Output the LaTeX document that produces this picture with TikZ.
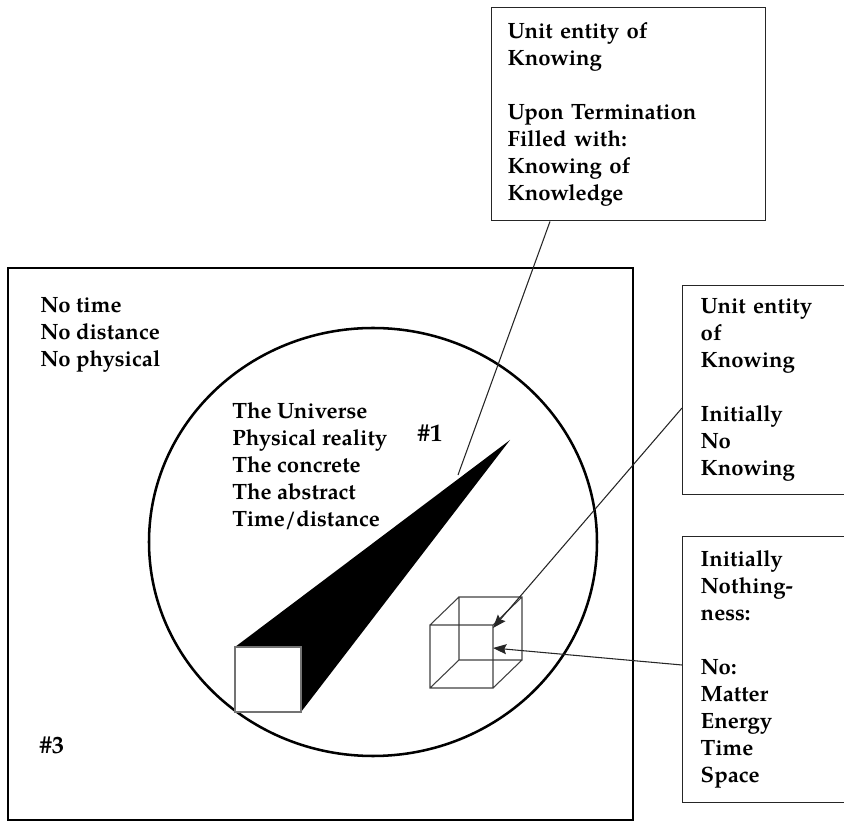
\documentclass[tikz,border=0pt]{standalone}
\usepackage{fontspec}
\setmainfont{texgyrepagella}[Extension=.otf,UprightFont=*-regular,BoldFont=*-bold,ItalicFont=*-italic,BoldItalicFont=*-bolditalic]
\usepackage{tikz}
\usetikzlibrary{arrows.meta}

\tikzset{
    txt/.style={font=\fontsize{16.6}{20.25}\selectfont\bfseries, align=left, inner sep=0pt, anchor=north west},
    infobox/.style={draw=black!85, line width=1.1pt, anchor=north west, inner ysep=0pt,
        font=\fontsize{16.6}{20.25}\selectfont\bfseries, align=left},
    tag/.style={font=\fontsize{18.5}{22}\selectfont\bfseries},
    link/.style={draw=black!85, line width=0.8pt},
    ptr/.style={link, -{Stealth[length=10pt,width=7.5pt,inset=1.5pt]}},
    wire/.style={draw=black!75, line width=0.8pt}
}

\begin{document}
\begin{tikzpicture}[x=0.75pt,y=-0.75pt]
\useasboundingbox (0,0) rectangle (844,823);
\clip (0,0) rectangle (844,823);

% frame and circle
\draw[line width=1.9pt] (8,268) rectangle (633,820);
\draw[line width=1.9pt] (373,542) ellipse [x radius=224, y radius=214];

% texts
\node[txt] (nophys) at (40,297) {No time\\No distance\\No physical};
\node[txt] (univ) at (232,402) {The Universe\\Physical reality\\The concrete\\The abstract\\Time/distance};
\node[tag] (one) at (430,433) {\#1};
\node[tag] (three) at (52,745) {\#3};

% the beam
\coordinate (tip) at (510,440);
\coordinate (hit) at (458,475);
\fill (235,647) -- (tip) -- (301,712) -- cycle;
\draw[fill=white, draw=black!55, line width=0.9pt] (235,647) rectangle (301,712);

% the cube
\coordinate (f1) at (430,625);
\coordinate (f2) at (493,625);
\coordinate (f3) at (493,688);
\coordinate (f4) at (430,688);
\coordinate (b1) at (459,597);
\coordinate (b2) at (522,597);
\coordinate (b3) at (522,660);
\coordinate (b4) at (459,660);
\draw[wire] (f1) -- (f2) -- (f3) -- (f4) -- cycle
    (b1) -- (b2) -- (b3) -- (b4) -- cycle
    (f1) -- (b1) (f2) -- (b2) (f3) -- (b3) (f4) -- (b4);
\coordinate (knowpt) at (493,628);
\coordinate (voidpt) at (493,648);

% boxes
\node[infobox, inner xsep=12pt, text width=181.5pt, minimum height=159.75pt] (termbox) at (491,7) {
Unit entity of\\Knowing\\[20.25pt]Upon Termination\\Filled with:\\Knowing of\\Knowledge};
\node[infobox, inner xsep=13.5pt, text width=130.5pt, minimum height=156.75pt] (knowbox) at (682,285) {
Unit entity\\of\\Knowing\\[20.25pt]Initially\\No\\Knowing};
\node[infobox, inner xsep=13.5pt, text width=130.5pt, minimum height=199.5pt] (voidbox) at (682,536) {
Initially\\Nothing-\\ness:\\[20.25pt]No:\\Matter\\Energy\\Time\\Space};

% connectors
\draw[link] ([xshift=44.25pt]termbox.south west) -- (hit);
\draw[ptr] ([yshift=-92.25pt]knowbox.north west) -- (knowpt);
\draw[ptr] ([yshift=-96.75pt]voidbox.north west) -- (voidpt);
\end{tikzpicture}
\end{document}
